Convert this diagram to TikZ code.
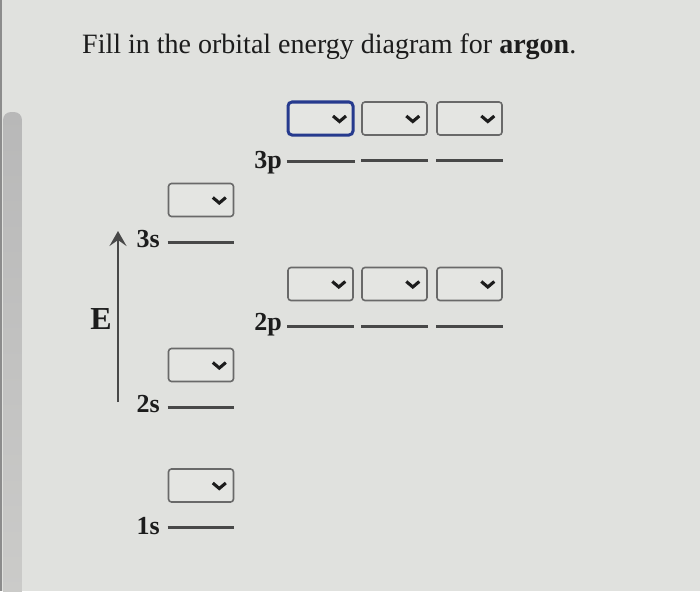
\documentclass[tikz,border=0pt]{standalone}
\usepackage{fontspec}
\setmainfont{Liberation Serif}
\usetikzlibrary{arrows.meta}
\definecolor{bg}{RGB}{224,225,222}
\definecolor{boxfill}{RGB}{228,229,226}
\definecolor{boxgray}{RGB}{105,105,105}
\definecolor{selblue}{RGB}{38,58,142}
\definecolor{orbgray}{RGB}{72,72,72}
\definecolor{inkc}{RGB}{28,28,28}
\definecolor{scrolltop}{RGB}{184,184,184}
\definecolor{scrollbot}{RGB}{204,204,202}
\begin{document}
\begin{tikzpicture}[x=1pt,y=-1pt,
  sel/.style={draw=boxgray, line width=1.6pt, rounded corners=3pt, fill=boxfill,
    minimum width=65pt, minimum height=33pt, inner sep=0pt},
  selact/.style={sel, draw=selblue, line width=3pt, rounded corners=4pt},
  orb/.style={draw=orbgray, line width=2.8pt},
  chev/.style={draw=inkc, line width=3.1pt, line join=miter},
  lbl/.style={font=\fontsize{26}{26}\selectfont\bfseries, text=inkc, anchor=base east, inner sep=0pt}]
\useasboundingbox (0,0) rectangle (700,591);
\fill[bg] (0,0) rectangle (700,591);
% scrollbar at the left edge
\shade[top color=scrolltop, bottom color=scrollbot, rounded corners=8pt] (3,112) rectangle (22,620);
\fill[black!45] (0,0) rectangle (1.5,591);

% title
\node[font=\fontsize{28}{28}\selectfont, text=inkc, anchor=base west, inner sep=0pt] (title) at (82,54)
  {Fill in the orbital energy diagram for \textbf{argon}.};

% select boxes
\node[selact] (b3p1) at (320.5,118.5) {};
\node[sel] (b3p2) at (394.5,118.5) {};
\node[sel] (b3p3) at (469.5,118.5) {};
\node[sel] (b2p1) at (320.5,284) {};
\node[sel] (b2p2) at (394.5,284) {};
\node[sel] (b2p3) at (469.5,284) {};
\node[sel] (b3s) at (201,200) {};
\node[sel] (b2s) at (201,365) {};
\node[sel] (b1s) at (201,485.5) {};

% chevrons and orbital lines
\foreach \n in {b3p1,b3p2,b3p3,b2p1,b2p2,b2p3,b3s,b2s,b1s}{
  \draw[chev] ([shift={(-21.5,-2.5)}]\n.east) -- ++(6.5,5.5) -- ++(6.5,-5.5);
  \draw[orb] ([yshift=-25pt]\n.south west) -- ([yshift=-25pt]\n.south east);
}

% labels
\node[lbl] (l3p) at (282,168) {3p};
\node[lbl] (l2p) at (282,330) {2p};
\node[lbl] (l3s) at (160,247) {3s};
\node[lbl] (l2s) at (160,412) {2s};
\node[lbl] (l1s) at (160,534) {1s};

% energy axis
\node[font=\fontsize{32}{32}\selectfont\bfseries, text=inkc, inner sep=0pt] (E) at (101,319) {E};
\coordinate (abot) at (118,402);
\coordinate (atop) at (118,231);
\draw[draw=orbgray, line width=2.2pt, -{Stealth[length=15pt,width=17pt,inset=6pt]}] (abot) -- (atop);
\end{tikzpicture}
\end{document}
